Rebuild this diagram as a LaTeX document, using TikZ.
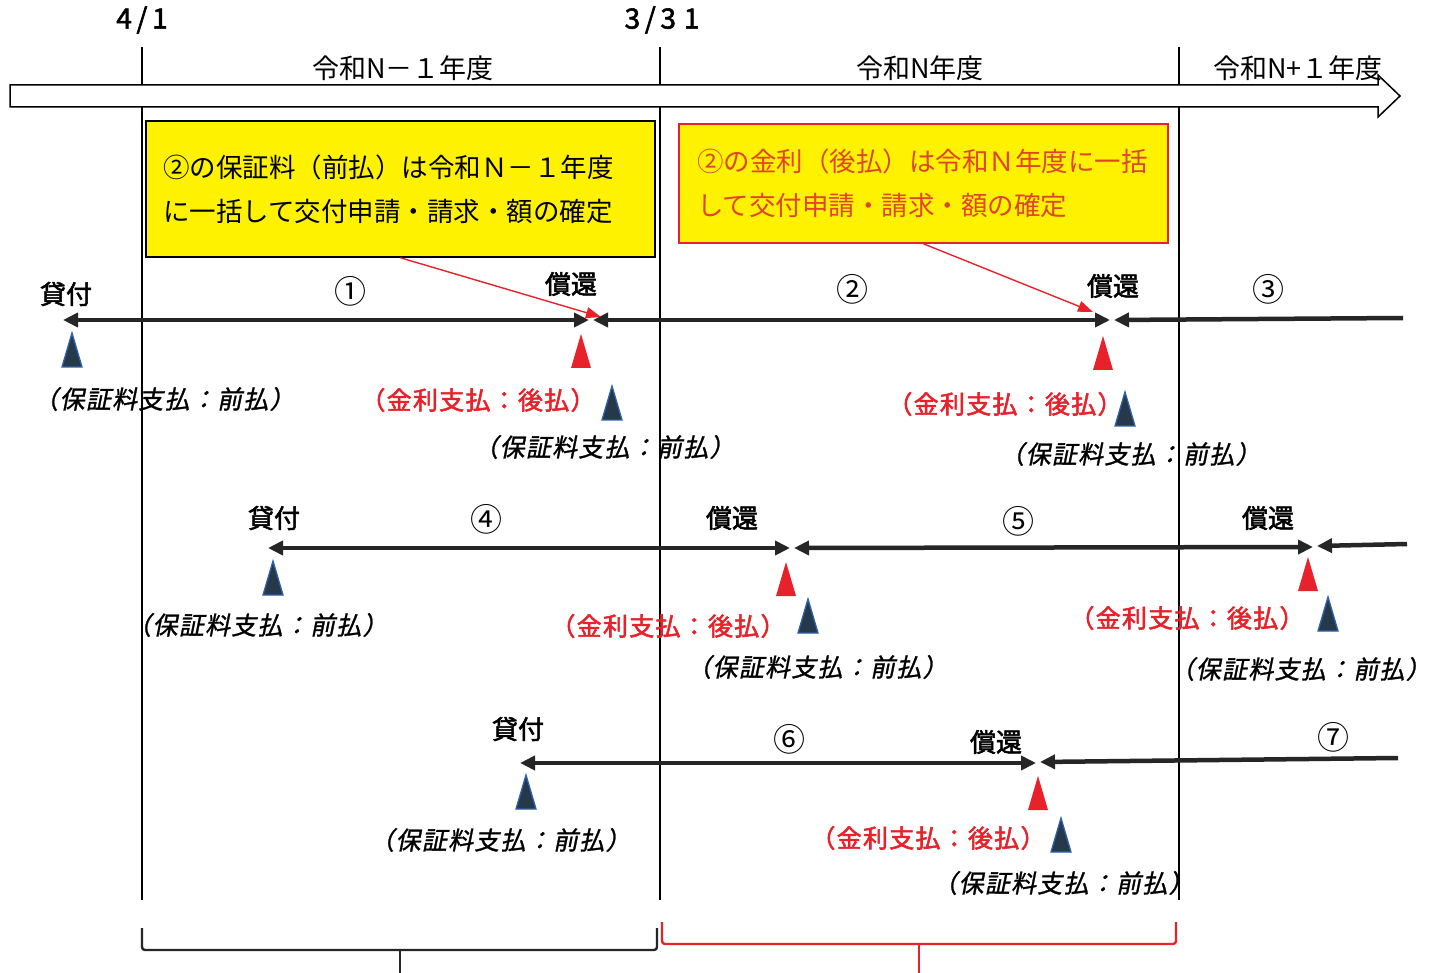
\documentclass[tikz,border=0pt]{standalone}
\usepackage{fontspec}
\setmainfont{Noto Sans CJK JP}
\newfontfamily\jpit[FakeSlant=0.2,FakeBold=1.2,LetterSpace=5]{Noto Sans CJK JP}
\newfontfamily\jpred[FakeBold=2.2,LetterSpace=5]{Noto Sans CJK JP}
\newfontfamily\jpbf[FakeBold=2]{Noto Sans CJK JP}
\usetikzlibrary{arrows.meta}
\definecolor{myred}{HTML}{E8222B}
\definecolor{yel}{HTML}{FFF200}
\definecolor{triblue}{HTML}{25394A}
\definecolor{triedge}{HTML}{2F62A8}
\definecolor{boxtxt}{HTML}{E0452A}
\definecolor{tlcol}{HTML}{262626}
\tikzset{
  tip/.tip={Triangle[length=15pt,width=14pt]},
  tl/.style={line width=4.5pt, draw=tlcol},
  vline/.style={line width=1.3pt, draw=black},
  lab/.style={font=\jpit\fontsize{25pt}{28pt}\selectfont, inner sep=0pt},
  rlab/.style={font=\jpred\fontsize{25pt}{28pt}\selectfont, text=myred, inner sep=0pt},
  ev/.style={font=\jpbf\fontsize{26pt}{28pt}\selectfont, inner sep=0pt},
  num/.style={font=\fontsize{32pt}{34pt}\selectfont, inner sep=0pt},
  yr/.style={font=\fontsize{27pt}{30pt}\selectfont, inner sep=0pt},
  datelab/.style={font=\jpbf\fontsize{28pt}{30pt}\selectfont, inner sep=0pt},
  ybox/.style={fill=yel, line width=1.6pt, align=left, inner xsep=0pt,
     font=\fontsize{26.5pt}{44pt}\selectfont},
  redarr/.style={draw=myred, line width=1.4pt, -{Triangle[length=15pt,width=11pt]}},
  bluetri/.pic={\filldraw[fill=triblue, draw=triedge, line width=1.3pt] (-10,17) -- (0,-17) -- (10,17) -- cycle;},
  redtri/.pic={\fill[myred] (-10,17) -- (0,-17) -- (10,17) -- cycle;}
}
\begin{document}
\begin{tikzpicture}[x=1pt, y=-1pt]
\useasboundingbox (0,0) rectangle (1438,973);
\fill[white] (0,0) rectangle (1438,973);

% vertical year boundaries
\coordinate (v1t) at (142,47); \coordinate (v1b) at (142,900);
\coordinate (v2t) at (660,47); \coordinate (v2b) at (660,900);
\coordinate (v3t) at (1179,47); \coordinate (v3b) at (1179,900);
\draw[vline] (v1t) -- (v1b);
\draw[vline] (v2t) -- (v2b);
\draw[vline] (v3t) -- (v3b);

% big timeline arrow
\filldraw[fill=white, draw=black, line width=1.5pt]
  (10,85) -- (1378,85) -- (1378,75) -- (1400,96) -- (1378,117) -- (1378,107) -- (10,107) -- cycle;

% dates and year labels
\node[datelab] (d1) at (142,20) {4\,/\,1};
\node[datelab] (d2) at (662,20) {3\,/\,3\;1};
\node[yr] (y1) at (403,68) {令和N－１年度};
\node[yr] (y2) at (920,68) {令和N年度};
\node[yr] (y3) at (1298,68) {令和N+１年度};

% yellow boxes
\node[ybox, draw=black, minimum width=509pt, minimum height=136pt, text width=475pt] (box1) at (400.5,189)
  {②の保証料（前払）は令和Ｎ－１年度\\に一括して交付申請・請求・額の確定};
\node[ybox, draw=myred, text=boxtxt, minimum width=489pt, minimum height=119pt, text width=453pt] (box2) at (923.5,183.5)
  {②の金利（後払）は令和Ｎ年度に一括\\して交付申請・請求・額の確定};

% row 1
\coordinate (a1s) at (63,320);  \coordinate (a1e) at (589,320);
\coordinate (a2s) at (593,320); \coordinate (a2e) at (1110,320);
\coordinate (a3s) at (1114,320); \coordinate (a3e) at (1403,318);
\draw[tl, tip-tip] (a1s) -- (a1e);
\draw[tl, tip-tip] (a2s) -- (a2e);
\draw[tl, tip-] (a3s) -- (a3e);
\coordinate (p1) at (601,317);
\coordinate (p2) at (1093,312);
\draw[redarr] (box1.south) -- (p1);
\draw[redarr] (box2.south) -- (p2);

\node[ev] (k1) at (66,294) {貸付};
\node[num] (n1) at (350,291) {①};
\node[ev] (s1) at (571,284) {償還};
\node[num] (n2) at (852,289) {②};
\node[ev] (s2) at (1113,286) {償還};
\node[num] (n3) at (1268,289) {③};

\pic at (72,350) {bluetri};
\pic at (581,351) {redtri};
\pic at (612,403) {bluetri};
\pic at (1103,353) {redtri};
\pic at (1125,409) {bluetri};
\node[lab] (l1) at (164,399) {（保証料支払：前払）};
\node[rlab] (r1) at (478,400) {（金利支払：後払）};
\node[lab] (l2) at (604,447) {（保証料支払：前払）};
\node[rlab] (r2) at (1005,404) {（金利支払：後払）};
\node[lab] (l3) at (1130,454) {（保証料支払：前払）};

% row 2
\coordinate (b1s) at (268,548);  \coordinate (b1e) at (790,548);
\coordinate (b2s) at (794,548);  \coordinate (b2e) at (1313,547);
\coordinate (b3s) at (1317,546); \coordinate (b3e) at (1407,544);
\draw[tl, tip-tip] (b1s) -- (b1e);
\draw[tl, tip-tip] (b2s) -- (b2e);
\draw[tl, tip-] (b3s) -- (b3e);
\node[ev] (k2) at (274,518) {貸付};
\node[num] (n4) at (486,519) {④};
\node[ev] (s3) at (732,518) {償還};
\node[num] (n5) at (1018,521) {⑤};
\node[ev] (s4) at (1268,518) {償還};
\pic at (273,578) {bluetri};
\pic at (786,579) {redtri};
\pic at (808,616) {bluetri};
\pic at (1308,574) {redtri};
\pic at (1328,614) {bluetri};
\node[lab] (l4) at (257,625) {（保証料支払：前払）};
\node[rlab] (r3) at (668,626) {（金利支払：後払）};
\node[lab] (l5) at (817,667) {（保証料支払：前払）};
\node[rlab] (r4) at (1187,618) {（金利支払：後払）};
\node[lab, anchor=east] (l6) at (1431,669) {（保証料支払：前払）};

% row 3
\coordinate (c1s) at (520,763);  \coordinate (c1e) at (1036,763);
\coordinate (c2s) at (1040,762); \coordinate (c2e) at (1398,758);
\draw[tl, tip-tip] (c1s) -- (c1e);
\draw[tl, tip-] (c2s) -- (c2e);
\node[ev] (k3) at (518,729) {貸付};
\node[num] (n6) at (789,739) {⑥};
\node[ev] (s5) at (996,742) {償還};
\node[num] (n7) at (1333,737) {⑦};
\pic at (526,792) {bluetri};
\pic at (1038,793) {redtri};
\pic at (1061,835) {bluetri};
\node[lab] (l7) at (500,840) {（保証料支払：前払）};
\node[rlab] (r5) at (928,838) {（金利支払：後払）};
\node[lab] (l8) at (1063,883) {（保証料支払：前払）};

% braces
\draw[line width=2.4pt, draw=tlcol, rounded corners=3pt] (142,928) -- (142,950) -- (657,950) -- (657,928);
\draw[line width=2.4pt, draw=tlcol] (400,950) -- (400,975);
\draw[line width=2.4pt, draw=myred, rounded corners=3pt] (662,922) -- (662,944) -- (1176,944) -- (1176,922);
\draw[line width=2.4pt, draw=myred] (919,944) -- (919,975);
\end{tikzpicture}
\end{document}
